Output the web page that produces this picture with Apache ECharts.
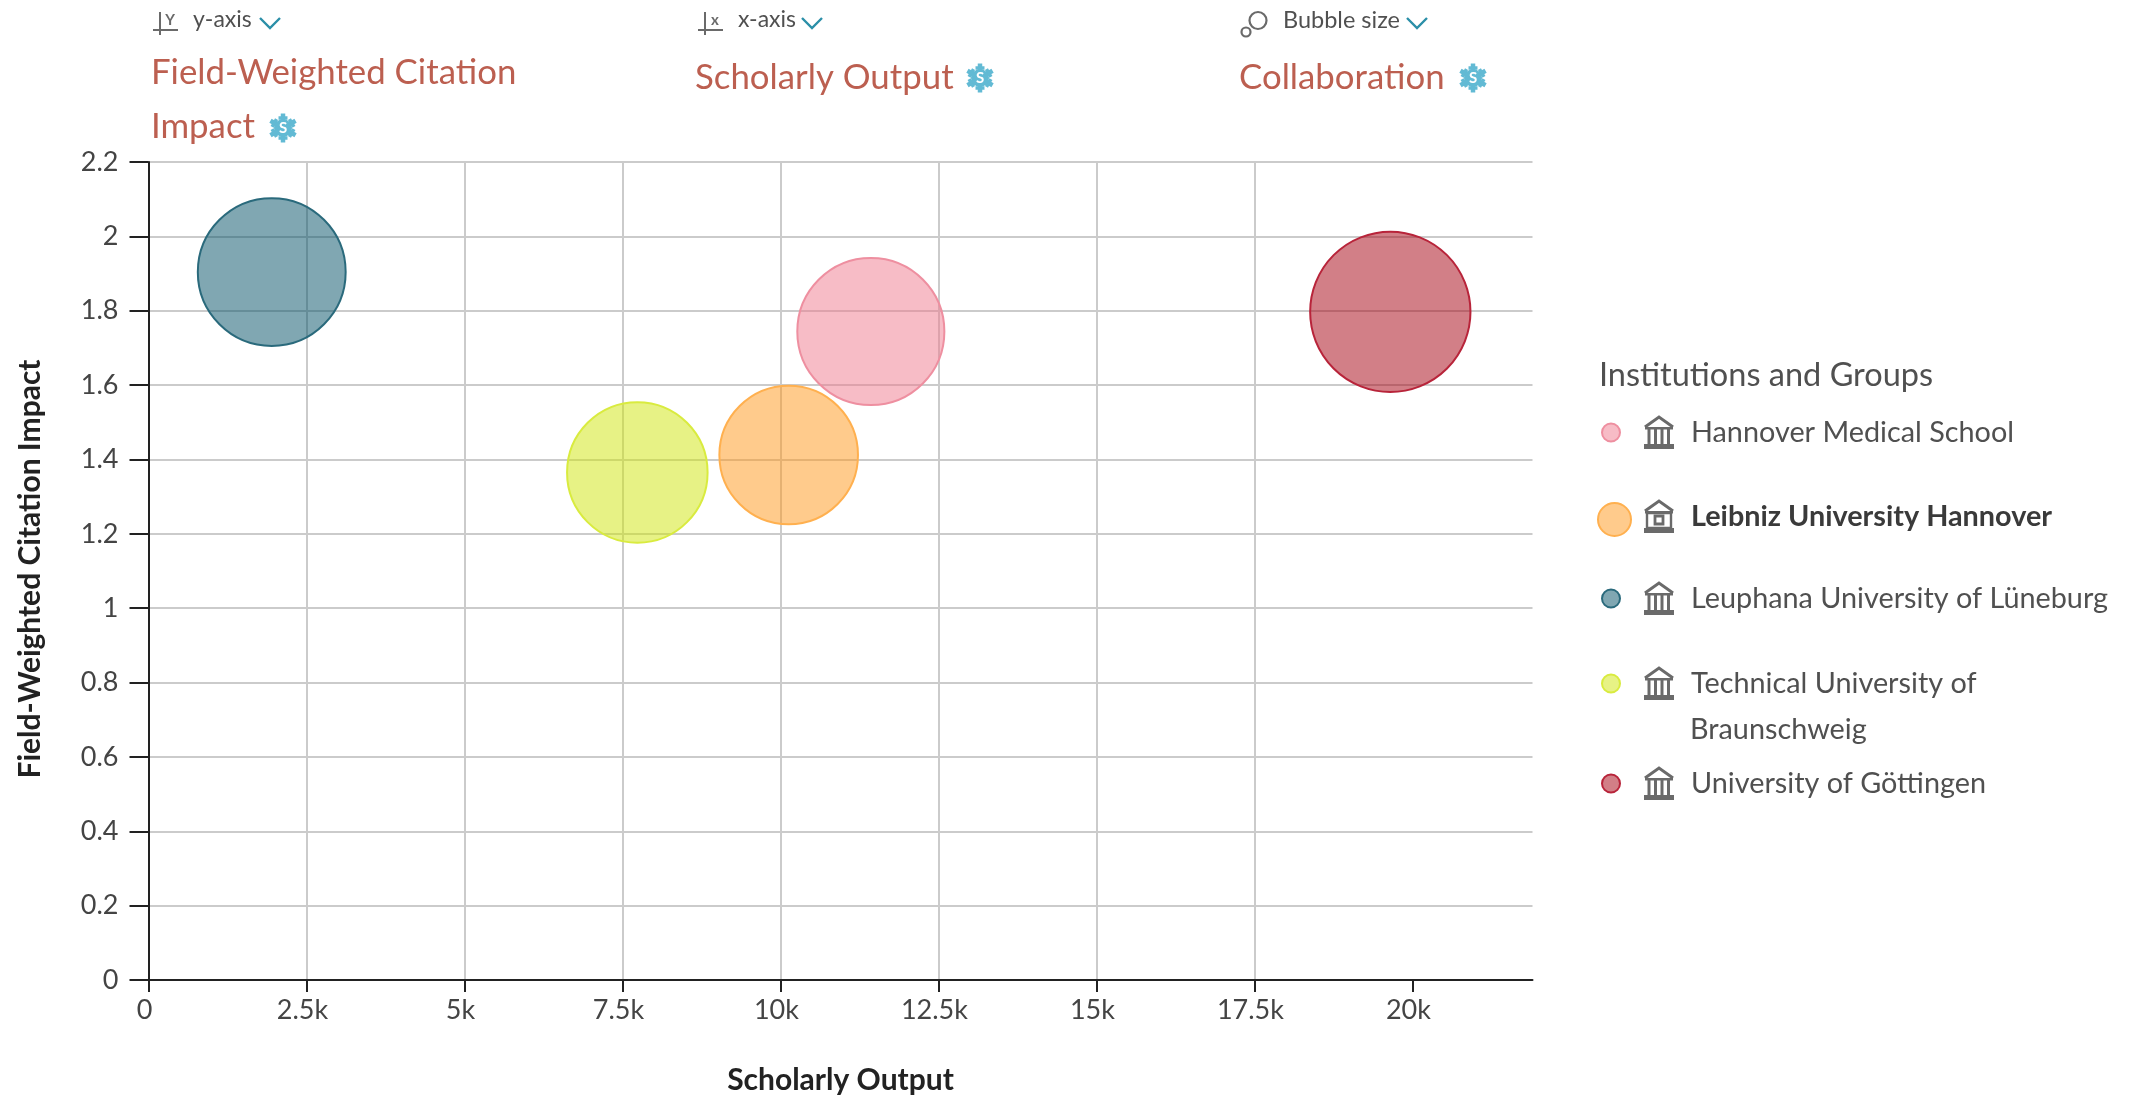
<!DOCTYPE html>
<html>
<head>
<meta charset="utf-8">
<style>html,body{margin:0;padding:0;background:#fff}#c{width:2137px;height:1100px}</style>
<script src="https://cdn.jsdelivr.net/npm/echarts@6/dist/echarts.min.js"></script>
</head>
<body>
<div id="c"></div>
<script>
const institutions = ['Hannover Medical School','Leibniz University Hannover','Leuphana University of Lüneburg','Technical University of Braunschweig','University of Göttingen'];
const scholarlyOutput = [11430, 10130, 1950, 7735, 19650];
const fwci = [1.744, 1.412, 1.904, 1.365, 1.797];
const collaboration = [56.3, 50, 56.9, 51.4, 66.9];
const fillColors = ['rgba(239,121,141,0.5)','rgba(255,151,25,0.5)','rgba(1,79,101,0.5)','rgba(207,229,11,0.5)','rgba(165,0,15,0.5)'];
const strokeColors = ['#ee8fa0','#ffb04f','#2a6a7c','#d9eb3f','#b8243a'];
const xTicks = [0,2500,5000,7500,10000,12500,15000,17500,20000];
const xMax = 21900;
const yMax = 2.2;
const yStep = 0.2;

const FONT = 'Lato';
const chart = echarts.init(document.getElementById('c'), null, {renderer:'canvas'});
const fmtX = v => v === 0 ? '0' : (v/1000) + 'k';

const series = institutions.map((name,i)=>({
  name, type:'scatter', silent:true,
  data:[[scholarlyOutput[i], fwci[i], collaboration[i]]],
  symbolSize: d => 2*9.8*Math.sqrt(d[2]),
  itemStyle:{color:fillColors[i], borderColor:strokeColors[i], borderWidth:2, opacity:1}
}));

const legendTop = [418, 502, 584, 669, 769];
const legendText = ['Hannover Medical School','Leibniz University Hannover','Leuphana University of Lüneburg','Technical University of','University of Göttingen'];
const legends = institutions.map((name,i)=>{
  const big = i===1;
  const sz = big ? 33 : 18;
  return {
    data:[name], left: big ? 1597 : 1601, top: legendTop[i], orient:'vertical',
    padding:0, selectedMode:false, icon:'circle', itemWidth:sz, itemHeight:sz,
    formatter: ()=> '{g|}{t|'+legendText[i]+'}',
    textStyle:{ rich:{
      g:{width: big ? 55 : 66, height:1},
      t:{fontFamily:FONT, fontSize:28.8, color: big?'#3a3a3a':'#505050', fontWeight: big?'bold':'normal', padding: big?[0,0,5,0]:0}
    }}
  };
});

const STEEL='#6a6a6a';
function building(x,y,leib){
  const els=[
    {type:'polyline',shape:{points:[[x+1,y+11],[x+15,y+1],[x+29,y+11]]},style:{stroke:STEEL,lineWidth:3,fill:'none'}},
    {type:'rect',shape:{x:x+1,y:y+11,width:28,height:2.5},style:{fill:STEEL}},
    {type:'rect',shape:{x:x,y:y+28,width:30,height:5},style:{fill:STEEL}}
  ];
  if(leib){
    els.push({type:'rect',shape:{x:x+3,y:y+13,width:24,height:15},style:{stroke:STEEL,lineWidth:2.4,fill:'none'}});
    els.push({type:'rect',shape:{x:x+11,y:y+16,width:8,height:8},style:{stroke:STEEL,lineWidth:2.8,fill:'none'}});
  } else {
    [3.5,10,16.5,23].forEach(o=>els.push({type:'rect',shape:{x:x+o,y:y+13,width:3,height:15},style:{fill:STEEL}}));
  }
  return els;
}
function snow(cx,cy){
  const C='#62bad4', r=14.5, els=[];
  [0,60,120].forEach(a=>{
    const t=a*Math.PI/180+Math.PI/2, c=Math.cos(t), s=Math.sin(t);
    els.push({type:'line',shape:{x1:cx-r*c,y1:cy-r*s,x2:cx+r*c,y2:cy+r*s},style:{stroke:C,lineWidth:4.5}});
    [1,-1].forEach(d=>{
      const bx=cx+d*10*c, by=cy+d*10*s, px=-s*4.5, py=c*4.5;
      els.push({type:'line',shape:{x1:bx-px,y1:by-py,x2:bx+px,y2:by+py},style:{stroke:C,lineWidth:3.5}});
    });
  });
  els.push({type:'circle',shape:{cx,cy,r:9},style:{fill:C}});
  els.push({type:'text',style:{x:cx,y:cy,text:'S',fill:'#fff',font:'bold 15px '+FONT,align:'center',verticalAlign:'middle'}});
  return els;
}
function chevron(x,y){
  return {type:'polyline',shape:{points:[[x,y],[x+10,y+10],[x+20,y]]},style:{stroke:'#2b8fa8',lineWidth:2.4,fill:'none'}};
}
function axisIcon(x,letter){
  return [
    {type:'line',shape:{x1:x+7,y1:12,x2:x+7,y2:35},style:{stroke:STEEL,lineWidth:2}},
    {type:'line',shape:{x1:x,y1:30,x2:x+25,y2:30},style:{stroke:STEEL,lineWidth:2}},
    {type:'text',style:{x:x+17,y:20,text:letter,fill:STEEL,font:'bold 15px '+FONT,align:'center',verticalAlign:'middle'}}
  ];
}
function txt(x,y,text,size,fill,weight){
  return {type:'text',style:{x,y,text,fill,font:(weight||'normal')+' '+size+'px '+FONT,align:'left',verticalAlign:'middle'}};
}
const TITLE='#bc5f50', LAB='#505050';
const graphics=[
  ...axisIcon(153,'Y'), txt(193,20,'y-axis',23,LAB), chevron(260,18),
  ...axisIcon(698,'x'), txt(738,20,'x-axis',23,LAB), chevron(802,18),
  {type:'circle',shape:{cx:1258,cy:20.5,r:8.5},style:{stroke:STEEL,lineWidth:2.2,fill:'none'}},
  {type:'circle',shape:{cx:1246,cy:32,r:4.5},style:{stroke:STEEL,lineWidth:2.2,fill:'none'}},
  txt(1283,20,'Bubble size',23.5,LAB), chevron(1407,18),
  txt(151,73,'Field-Weighted Citation',34.8,TITLE), txt(151,127,'Impact',34.8,TITLE), ...snow(283,128),
  txt(695,78,'Scholarly Output',34.8,TITLE), ...snow(980,78),
  txt(1239,78,'Collaboration',34.8,TITLE), ...snow(1473,78),
  txt(1599,376,'Institutions and Groups',32.5,LAB),
  txt(1690,730,'Braunschweig',28.8,LAB),
  ...building(1644,416,false), ...building(1644,500,true), ...building(1644,582,false),
  ...building(1644,667,false), ...building(1644,767,false)
];

chart.setOption({
  animation:false,
  backgroundColor:'#fff',
  textStyle:{fontFamily:FONT},
  grid:{left:148.5,top:162,width:1384,height:821,containLabel:false},
  xAxis:{
    type:'value',min:0,max:xMax,interval:2500,
    name:'Scholarly Output',nameLocation:'middle',nameGap:85,
    nameTextStyle:{fontFamily:FONT,fontWeight:'bold',fontSize:30,color:'#222'},
    axisLine:{show:true,onZero:false,lineStyle:{color:'#222',width:2}},
    axisTick:{show:true,length:12,customValues:xTicks,lineStyle:{color:'#222',width:2}},
    axisLabel:{fontSize:27,color:'#444',fontFamily:FONT,margin:17,customValues:xTicks,formatter:fmtX,padding:[0,8,0,0]},
    splitLine:{show:true,showMaxLine:false,lineStyle:{color:'#cbcbcb',width:2}}
  },
  yAxis:{
    type:'value',min:0,max:yMax,interval:yStep,
    name:'Field-Weighted Citation Impact',nameLocation:'middle',nameGap:103,nameRotate:90,
    nameTextStyle:{fontFamily:FONT,fontWeight:'bold',fontSize:30,color:'#222',padding:[0,0,0,4]},
    axisLine:{show:true,onZero:false,lineStyle:{color:'#222',width:2}},
    axisTick:{show:true,length:19,lineStyle:{color:'#222',width:2}},
    axisLabel:{fontSize:27,color:'#444',fontFamily:FONT,margin:30,formatter:v=>String(+v.toFixed(1))},
    splitLine:{show:true,lineStyle:{color:'#cbcbcb',width:2}}
  },
  legend:legends,
  series,
  graphic:{elements:graphics}
});
</script>
</body>
</html>
